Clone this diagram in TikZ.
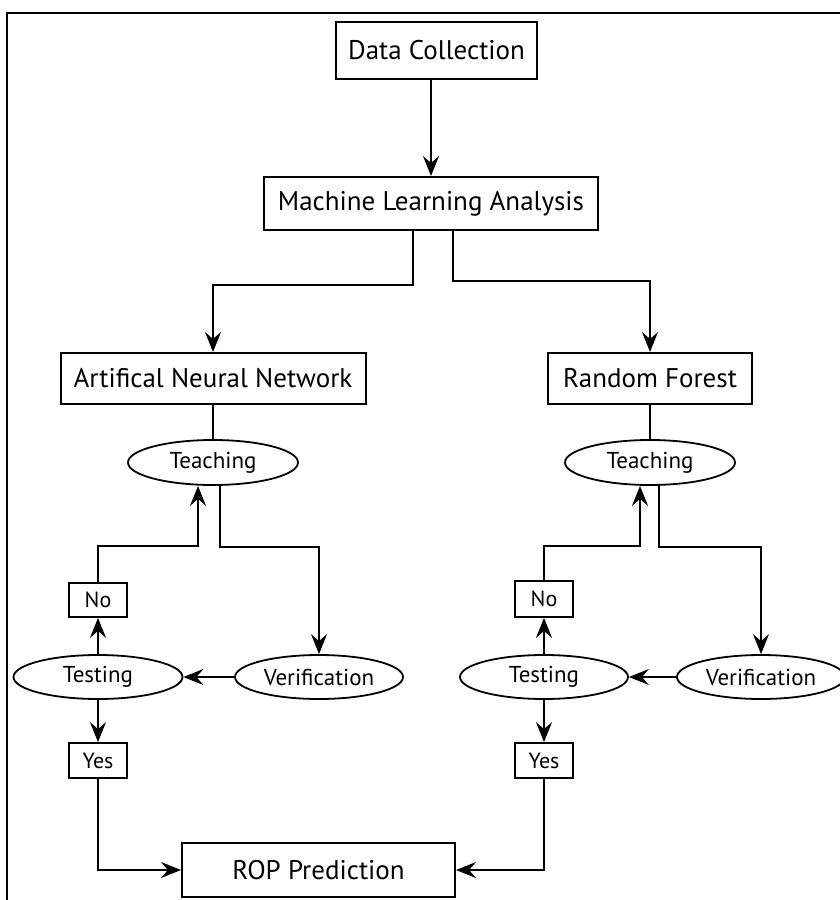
\documentclass[tikz,border=0pt]{standalone}
\usepackage{fontspec}
\setmainfont{PT Sans}
\usetikzlibrary{arrows.meta,shapes.geometric,calc}
\begin{document}
\begin{tikzpicture}[x=1pt,y=-1pt,
  box/.style={draw,line width=2pt,rectangle,inner sep=0pt,font=\fontsize{27}{30}\selectfont},
  oval/.style={draw,line width=1.8pt,ellipse,inner sep=0pt,font=\fontsize{23}{26}\selectfont},
  small/.style={draw,line width=1.8pt,rectangle,inner sep=0pt,minimum width=58pt,font=\fontsize{22}{25}\selectfont},
  conn/.style={line width=1.6pt},
  arr/.style={conn,-{Stealth[length=20pt,width=16pt,inset=7pt]}}]
\useasboundingbox (0,0) rectangle (840,900);
\fill[white] (0,0) rectangle (840,900);
% frame
\draw[line width=2.2pt] (840,13) -- (7,13) -- (7,902);
% nodes
\node[box,minimum width=201pt,minimum height=57pt] (DC) at (436.5,50.5) {Data Collection};
\node[box,minimum width=334pt,minimum height=53pt] (ML) at (431,203.5) {Machine Learning Analysis};
\node[box,minimum width=305pt,minimum height=51pt] (ANN) at (213,378.5) {Artifical Neural Network};
\node[box,minimum width=204pt,minimum height=51pt] (RF) at (650,378.5) {Random Forest};
\node[oval,minimum width=170pt,minimum height=45pt] (TeachL) at (213,462.5) {Teaching};
\node[oval,minimum width=170pt,minimum height=45pt] (TeachR) at (650,462.5) {Teaching};
\node[small,minimum height=34pt] (NoL) at (98,600) {No};
\node[small,minimum height=36pt] (NoR) at (544,599) {No};
\node[oval,minimum width=169pt,minimum height=44pt] (TestL) at (98,677) {Testing};
\node[oval,minimum width=168pt,minimum height=44pt] (VerL) at (319,677) {Verification};
\node[oval,minimum width=168pt,minimum height=44pt] (TestR) at (544,677) {Testing};
\node[oval,minimum width=168pt,minimum height=44pt] (VerR) at (761,677) {Verification};
\node[small,minimum height=35pt] (YesL) at (98,760.5) {Yes};
\node[small,minimum height=35pt] (YesR) at (544,760.5) {Yes};
\node[box,minimum width=273pt,minimum height=54pt] (ROP) at (318.5,870) {ROP Prediction};
% helper coordinates
\coordinate (cL) at (198,546);
\coordinate (cR) at (640,546);
% connectors
\draw[arr] (DC.south -| ML.north) -- (ML.north);
\draw[arr] ([xshift=-18pt]ML.south) -- ++(0,54) -| (ANN.north);
\draw[arr] ([xshift=22pt]ML.south) -- ++(0,50) -| (RF.north);
\draw[conn] (ANN.south) -- (TeachL.north);
\draw[conn] (RF.south) -- (TeachR.north);
\draw[arr] (NoL.north) |- (cL) -- ([xshift=-15pt]TeachL.south);
\draw[arr] ([xshift=7pt]TeachL.south) -- ++(0,61) -| (VerL.north);
\draw[arr] (NoR.north) |- (cR) -- ([xshift=-10pt]TeachR.south);
\draw[arr] ([xshift=9pt]TeachR.south) -- ++(0,61) -| (VerR.north);
\draw[arr] (VerL.west) -- (TestL.east);
\draw[arr] (VerR.west) -- (TestR.east);
\draw[arr] (TestL.north) -- (NoL.south);
\draw[arr] (TestR.north) -- (NoR.south);
\draw[arr] (TestL.south) -- (YesL.north);
\draw[arr] (TestR.south) -- (YesR.north);
\draw[arr] (YesL.south) |- (ROP.west);
\draw[arr] (YesR.south) |- (ROP.east);
\end{tikzpicture}
\end{document}
